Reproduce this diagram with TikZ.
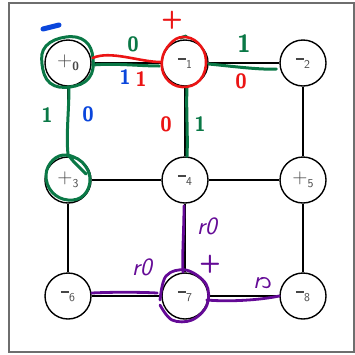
\documentclass[tikz,border=0pt]{standalone}
\usetikzlibrary{calc}
\definecolor{ann green}{RGB}{10,120,70}
\definecolor{ann red}{RGB}{235,20,20}
\definecolor{ann blue}{RGB}{10,70,220}
\definecolor{ann purple}{RGB}{100,10,150}
\definecolor{frame}{RGB}{110,110,110}
\newcommand{\vminus}{\rule[0.55ex]{0.4em}{1.8pt}}
\newcommand{\vsub}[1]{\raisebox{-0.4ex}{\large #1}}
\begin{document}
\begin{tikzpicture}[x=1pt,y=-1pt,
  vertex/.style={circle,draw=black,line width=1.4pt,minimum size=46pt,inner sep=0pt,fill=white,text=gray!55!black,font=\sffamily\huge},
  gridedge/.style={line width=1.4pt,black},
  gstroke/.style={ann green,line width=3pt,line cap=round,line join=round},
  rstroke/.style={ann red,line width=2.6pt,line cap=round,line join=round},
  pstroke/.style={ann purple,line width=2.8pt,line cap=round,line join=round},
  hand/.style={font=\sffamily\huge\bfseries,inner sep=0pt}]
\useasboundingbox (0,0) rectangle (355,354);
\draw[frame,line width=1.6pt] (9,3) rectangle (354,352);
% grid nodes
\node[vertex] (n0) at (68,63) {+\vsub{\bfseries 0}};
\node[vertex] (n1) at (185,63) {\vminus\vsub{1}};
\node[vertex] (n2) at (303,63) {\vminus\vsub{2}};
\node[vertex] (n3) at (68,180) {+\vsub{3}};
\node[vertex] (n4) at (185,180) {\vminus\vsub{4}};
\node[vertex] (n5) at (303,180) {+\vsub{5}};
\node[vertex] (n6) at (68,296) {\vminus\vsub{6}};
\node[vertex] (n7) at (185,296) {\vminus\vsub{7}};
\node[vertex] (n8) at (303,296) {\vminus\vsub{8}};
\draw[gridedge] (n0) -- (n1);
\draw[gridedge] (n1) -- (n2);
\draw[gridedge] (n3) -- (n4);
\draw[gridedge] (n4) -- (n5);
\draw[gridedge] (n6) -- (n7);
\draw[gridedge] (n7) -- (n8);
\draw[gridedge] (n0) -- (n3);
\draw[gridedge] (n3) -- (n6);
\draw[gridedge] (n1) -- (n4);
\draw[gridedge] (n4) -- (n7);
\draw[gridedge] (n2) -- (n5);
\draw[gridedge] (n5) -- (n8);
% green annotations
\draw[gstroke] plot[smooth cycle,tension=0.7] coordinates {(66,37) (85,41) (93,58) (89,78) (70,87) (50,83) (42,64) (46,46)};
\draw[gstroke] ($(n0.east)+(1,2)$) .. controls (115,63) and (140,66) .. ($(n1.west)+(-2,3)$);
\draw[gstroke] ($(n0.south)+(1,0)$) .. controls (69,110) and (66,135) .. ($(n3.north)+(0,-2)$);
\draw[gstroke] plot[smooth,tension=0.7] coordinates {(68,155) (82,162) (90,178) (84,195) (68,200) (52,192) (46,175) (53,160) (66,155) (74,162) (86,174)};
\draw[gstroke] ($(n1.east)+(0,1)$) .. controls (230,66) and (260,70) .. ($(n2.west)+(-3,6)$);
\draw[gstroke] ($(n1.south)+(2,0)$) .. controls (186,110) and (188,135) .. ($(n4.north)+(2,0)$);
\draw[gstroke] (180,38) -- (186,36);
% red annotations
\draw[rstroke] plot[smooth cycle,tension=0.7] coordinates {(183,37) (198,43) (206,60) (200,80) (182,87) (166,78) (162,60) (170,44)};
\draw[rstroke] ($(n0.east)+(1,-5)$) .. controls (110,50) and (140,62) .. ($(n1.west)+(-1,-1)$);
% purple annotations
\draw[pstroke] ($(n4.south)+(-1,2)$) .. controls (184,230) and (182,255) .. ($(n7.north)+(-2,0)$);
\draw[pstroke] plot[smooth,tension=0.6] coordinates {(160,300) (166,276) (186,270) (206,284) (207,305) (192,320) (172,320) (160,305)};
\draw[pstroke] ($(n6.east)+(0,-3)$) .. controls (110,292) and (140,292) .. ($(n7.west)+(-4,-3)$);
\draw[pstroke] ($(n7.east)+(-2,4)$) .. controls (230,302) and (260,300) .. ($(n8.west)+(0,0)$);
% blue dash
\draw[ann blue,line width=5pt,line cap=round] (43,29) -- (59,25);
% handwritten labels
\node[hand,text=ann red,font=\sffamily\Huge\bfseries] (lplus) at (172,20) {+};
\node[hand,text=ann green] (lg0) at (133,44) {0};
\node[hand,text=ann blue] (lb1) at (125,77) {1};
\node[hand,text=ann red] (lr1) at (141,79) {1};
\node[hand,text=ann green] (lg1a) at (47,115) {1};
\node[hand,text=ann blue] (lb0) at (88,114) {0};
\node[hand,text=ann red] (lr0a) at (166,124) {0};
\node[hand,text=ann green] (lg1b) at (200,124) {1};
\node[hand,text=ann green,font=\sffamily\Huge\bfseries] (lg1c) at (244,44) {1};
\node[hand,text=ann red] (lr0b) at (241,81) {0};
\node[hand,text=ann purple,font=\sffamily\Huge\itshape] (lp1) at (207,226) {r0};
\node[hand,text=ann purple,font=\sffamily\Huge\bfseries] (lpp) at (210,264) {+};
\node[hand,text=ann purple,font=\sffamily\Huge\itshape] (lp2) at (142,267) {r0};
\node[hand,text=ann purple,font=\sffamily\Huge\itshape] (lp3) at (263,283) {r\kern1pt\reflectbox{c}};
\end{tikzpicture}
\end{document}
